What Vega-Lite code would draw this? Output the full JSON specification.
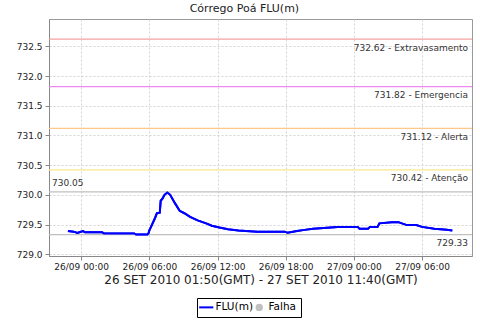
{
  "$schema": "https://vega.github.io/schema/vega-lite/v6.json",
  "width": 423,
  "height": 237,
  "autosize": {"type": "none"},
  "padding": {"left": 49, "top": 19, "right": 8, "bottom": 64},
  "background": "white",
  "title": {
    "text": "Córrego Poá FLU(m)",
    "font": "DejaVu Sans",
    "fontSize": 11,
    "fontWeight": "normal",
    "color": "#222222",
    "anchor": "middle",
    "frame": "bounds",
    "offset": 5
  },
  "datasets": {
    "serie": [
      {"t": "2010-09-25T22:50:00Z", "v": 729.39, "s": "FLU(m)"},
      {"t": "2010-09-25T23:20:00Z", "v": 729.38, "s": "FLU(m)"},
      {"t": "2010-09-25T23:40:00Z", "v": 729.36, "s": "FLU(m)"},
      {"t": "2010-09-25T23:50:00Z", "v": 729.37, "s": "FLU(m)"},
      {"t": "2010-09-26T00:10:00Z", "v": 729.39, "s": "FLU(m)"},
      {"t": "2010-09-26T00:20:00Z", "v": 729.37, "s": "FLU(m)"},
      {"t": "2010-09-26T01:50:00Z", "v": 729.37, "s": "FLU(m)"},
      {"t": "2010-09-26T02:00:00Z", "v": 729.35, "s": "FLU(m)"},
      {"t": "2010-09-26T04:40:00Z", "v": 729.35, "s": "FLU(m)"},
      {"t": "2010-09-26T04:50:00Z", "v": 729.33, "s": "FLU(m)"},
      {"t": "2010-09-26T05:50:00Z", "v": 729.33, "s": "FLU(m)"},
      {"t": "2010-09-26T05:55:00Z", "v": 729.35, "s": "FLU(m)"},
      {"t": "2010-09-26T06:00:00Z", "v": 729.40, "s": "FLU(m)"},
      {"t": "2010-09-26T06:10:00Z", "v": 729.47, "s": "FLU(m)"},
      {"t": "2010-09-26T06:30:00Z", "v": 729.61, "s": "FLU(m)"},
      {"t": "2010-09-26T06:40:00Z", "v": 729.69, "s": "FLU(m)"},
      {"t": "2010-09-26T06:55:00Z", "v": 729.70, "s": "FLU(m)"},
      {"t": "2010-09-26T07:00:00Z", "v": 729.90, "s": "FLU(m)"},
      {"t": "2010-09-26T07:10:00Z", "v": 729.94, "s": "FLU(m)"},
      {"t": "2010-09-26T07:20:00Z", "v": 730.00, "s": "FLU(m)"},
      {"t": "2010-09-26T07:35:00Z", "v": 730.04, "s": "FLU(m)"},
      {"t": "2010-09-26T07:50:00Z", "v": 730.00, "s": "FLU(m)"},
      {"t": "2010-09-26T08:15:00Z", "v": 729.86, "s": "FLU(m)"},
      {"t": "2010-09-26T08:40:00Z", "v": 729.73, "s": "FLU(m)"},
      {"t": "2010-09-26T09:05:00Z", "v": 729.69, "s": "FLU(m)"},
      {"t": "2010-09-26T09:35:00Z", "v": 729.63, "s": "FLU(m)"},
      {"t": "2010-09-26T10:15:00Z", "v": 729.57, "s": "FLU(m)"},
      {"t": "2010-09-26T11:00:00Z", "v": 729.52, "s": "FLU(m)"},
      {"t": "2010-09-26T11:30:00Z", "v": 729.48, "s": "FLU(m)"},
      {"t": "2010-09-26T12:10:00Z", "v": 729.45, "s": "FLU(m)"},
      {"t": "2010-09-26T12:55:00Z", "v": 729.42, "s": "FLU(m)"},
      {"t": "2010-09-26T13:50:00Z", "v": 729.40, "s": "FLU(m)"},
      {"t": "2010-09-26T15:30:00Z", "v": 729.38, "s": "FLU(m)"},
      {"t": "2010-09-26T17:55:00Z", "v": 729.38, "s": "FLU(m)"},
      {"t": "2010-09-26T18:10:00Z", "v": 729.36, "s": "FLU(m)"},
      {"t": "2010-09-26T19:00:00Z", "v": 729.39, "s": "FLU(m)"},
      {"t": "2010-09-26T19:40:00Z", "v": 729.41, "s": "FLU(m)"},
      {"t": "2010-09-26T20:25:00Z", "v": 729.43, "s": "FLU(m)"},
      {"t": "2010-09-26T22:35:00Z", "v": 729.46, "s": "FLU(m)"},
      {"t": "2010-09-27T00:20:00Z", "v": 729.46, "s": "FLU(m)"},
      {"t": "2010-09-27T00:30:00Z", "v": 729.43, "s": "FLU(m)"},
      {"t": "2010-09-27T01:15:00Z", "v": 729.43, "s": "FLU(m)"},
      {"t": "2010-09-27T01:25:00Z", "v": 729.46, "s": "FLU(m)"},
      {"t": "2010-09-27T02:05:00Z", "v": 729.46, "s": "FLU(m)"},
      {"t": "2010-09-27T02:15:00Z", "v": 729.52, "s": "FLU(m)"},
      {"t": "2010-09-27T03:20:00Z", "v": 729.54, "s": "FLU(m)"},
      {"t": "2010-09-27T03:55:00Z", "v": 729.54, "s": "FLU(m)"},
      {"t": "2010-09-27T04:40:00Z", "v": 729.49, "s": "FLU(m)"},
      {"t": "2010-09-27T05:30:00Z", "v": 729.49, "s": "FLU(m)"},
      {"t": "2010-09-27T06:00:00Z", "v": 729.46, "s": "FLU(m)"},
      {"t": "2010-09-27T07:05:00Z", "v": 729.43, "s": "FLU(m)"},
      {"t": "2010-09-27T08:10:00Z", "v": 729.41, "s": "FLU(m)"},
      {"t": "2010-09-27T08:40:00Z", "v": 729.40, "s": "FLU(m)"}
    ],
    "limites": [
      {"valor": 732.62, "tipo": "Extravasamento", "rotulo": "732.62 - Extravasamento"},
      {"valor": 731.82, "tipo": "Emergencia", "rotulo": "731.82 - Emergencia"},
      {"valor": 731.12, "tipo": "Alerta", "rotulo": "731.12 - Alerta"},
      {"valor": 730.42, "tipo": "Atenção", "rotulo": "730.42 - Atenção"},
      {"valor": 730.05, "tipo": "Máximo", "rotulo": "730.05"},
      {"valor": 729.33, "tipo": "Mínimo", "rotulo": "729.33"}
    ]
  },
  "encoding": {
    "y": {
      "type": "quantitative",
      "scale": {"domain": [728.97, 732.96], "zero": false, "nice": false},
      "axis": {
        "title": null,
        "values": [729, 729.5, 730, 730.5, 731, 731.5, 732, 732.5],
        "format": ".1f"
      }
    }
  },
  "layer": [
    {
      "data": {"name": "serie"},
      "mark": {"type": "line", "strokeWidth": 2},
      "encoding": {
        "x": {
          "field": "t",
          "type": "temporal",
          "scale": {
            "type": "utc",
            "domain": [
              {"year": 2010, "month": 9, "date": 25, "hours": 21, "minutes": 10, "utc": true},
              {"year": 2010, "month": 9, "date": 27, "hours": 10, "minutes": 24, "utc": true}
            ]
          },
          "axis": {
            "title": "26 SET 2010 01:50(GMT) - 27 SET 2010 11:40(GMT)",
            "labelExpr": "utcFormat(datum.value, '%d/%m %H:%M')",
            "values": [
              {"year": 2010, "month": 9, "date": 26, "hours": 0, "utc": true},
              {"year": 2010, "month": 9, "date": 26, "hours": 6, "utc": true},
              {"year": 2010, "month": 9, "date": 26, "hours": 12, "utc": true},
              {"year": 2010, "month": 9, "date": 26, "hours": 18, "utc": true},
              {"year": 2010, "month": 9, "date": 27, "hours": 0, "utc": true},
              {"year": 2010, "month": 9, "date": 27, "hours": 6, "utc": true}
            ],
            "labelFlush": false
          }
        },
        "y": {"field": "v", "type": "quantitative"},
        "color": {
          "field": "s",
          "type": "nominal",
          "scale": {"domain": ["FLU(m)", "Falha"], "range": ["#0000ff", "#c0c0c0"]},
          "legend": {
            "title": null,
            "orient": "none",
            "legendX": 148,
            "legendY": 279,
            "direction": "horizontal",
            "padding": 4,
            "strokeColor": "#000000",
            "fillColor": "#ffffff",
            "symbolSize": 200,
            "symbolStrokeWidth": 2,
            "labelOffset": 4,
            "columnPadding": 1,
            "labelFont": "DejaVu Sans",
            "labelFontSize": 10.5,
            "labelColor": "#000000",
            "encode": {
              "symbols": {
                "update": {
                  "shape": {"signal": "datum.value === 'Falha' ? 'circle' : 'stroke'"},
                  "size": {"signal": "datum.value === 'Falha' ? 55 : 200"},
                  "fill": {"signal": "datum.value === 'Falha' ? '#c0c0c0' : 'transparent'"},
                  "strokeWidth": {"signal": "datum.value === 'Falha' ? 0 : 2"}
                }
              }
            }
          }
        }
      }
    },
    {
      "data": {"name": "limites"},
      "mark": {"type": "rule", "strokeWidth": 1.2},
      "encoding": {
        "y": {"field": "valor", "type": "quantitative"},
        "stroke": {
          "field": "tipo",
          "type": "nominal",
          "scale": {
            "domain": ["Extravasamento", "Emergencia", "Alerta", "Atenção", "Máximo", "Mínimo"],
            "range": ["#f4a0a0", "#ee88ee", "#ffc88a", "#f8e88c", "#c0c0c0", "#c0c0c0"]
          },
          "legend": null
        }
      }
    },
    {
      "data": {"name": "limites"},
      "transform": [{"filter": "datum.tipo !== 'Máximo'"}],
      "mark": {"type": "text", "align": "right", "baseline": "middle", "dx": -4, "dy": 8.5, "font": "DejaVu Sans", "fontSize": 9, "color": "#333333"},
      "encoding": {
        "x": {"datum": {"year": 2010, "month": 9, "date": 27, "hours": 10, "minutes": 24, "utc": true}, "type": "temporal", "scale": {"type": "utc"}},
        "y": {"field": "valor", "type": "quantitative"},
        "text": {"field": "rotulo"}
      }
    },
    {
      "data": {"name": "limites"},
      "transform": [{"filter": "datum.tipo === 'Máximo'"}],
      "mark": {"type": "text", "align": "left", "baseline": "middle", "dx": 3, "dy": -9, "font": "DejaVu Sans", "fontSize": 9, "color": "#333333"},
      "encoding": {
        "x": {"datum": {"year": 2010, "month": 9, "date": 25, "hours": 21, "minutes": 10, "utc": true}, "type": "temporal", "scale": {"type": "utc"}},
        "y": {"field": "valor", "type": "quantitative"},
        "text": {"field": "rotulo"}
      }
    },
    {
      "data": {"name": "serie"},
      "mark": {"type": "line", "strokeWidth": 2, "color": "#0000ff"},
      "encoding": {
        "x": {"field": "t", "type": "temporal"},
        "y": {"field": "v", "type": "quantitative"}
      }
    }
  ],
  "config": {
    "view": {"stroke": "#999999"},
    "axis": {
      "labelFont": "DejaVu Sans",
      "labelFontSize": 9,
      "labelColor": "#222222",
      "titleFont": "DejaVu Sans",
      "titleFontSize": 12,
      "titleFontWeight": "normal",
      "titleColor": "#222222",
      "domainColor": "#888888",
      "tickColor": "#888888",
      "tickSize": 4,
      "labelPadding": 2,
      "gridColor": "#d4d4d4",
      "gridDash": [2, 2],
      "gridWidth": 1
    },
    "axisX": {"titlePadding": 3},
    "axisY": {"labelPadding": 3}
  }
}
